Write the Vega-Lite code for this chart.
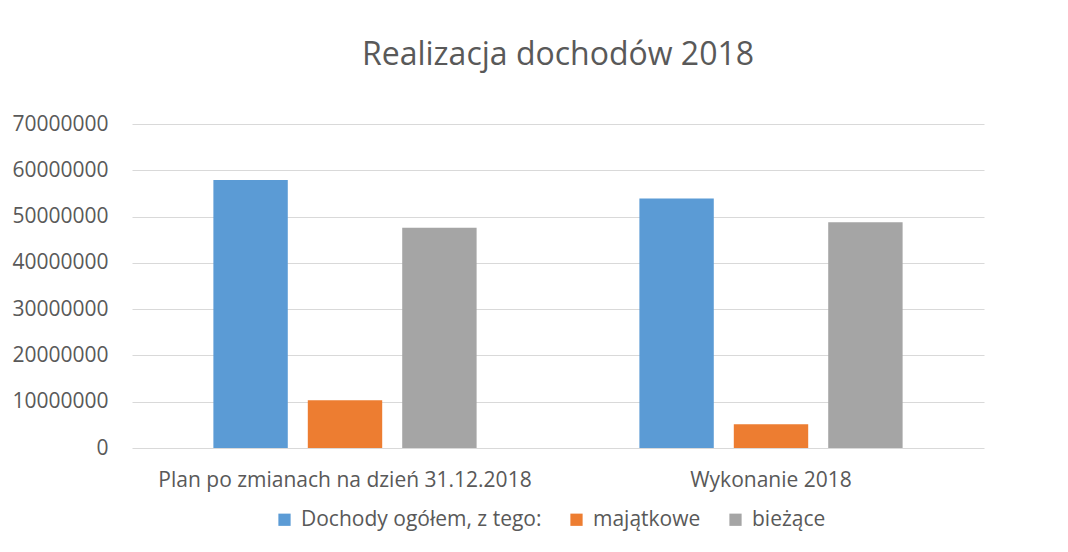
{
  "$schema": "https://vega.github.io/schema/vega-lite/v6.json",
  "autosize": "none",
  "width": 852,
  "height": 324,
  "padding": {"left": 132, "top": 124, "right": 84, "bottom": 104},
  "background": "white",
  "title": {
    "text": "Realizacja dochodów 2018",
    "font": "Open Sans",
    "fontSize": 32,
    "fontWeight": "normal",
    "color": "#595959",
    "anchor": "middle",
    "baseline": "alphabetic",
    "offset": 16
  },
  "data": {
    "values": [
      {"kategoria": "Plan po zmianach na dzień 31.12.2018", "seria": "Dochody ogółem, z tego:", "wartosc": 57900000},
      {"kategoria": "Plan po zmianach na dzień 31.12.2018", "seria": "majątkowe", "wartosc": 10300000},
      {"kategoria": "Plan po zmianach na dzień 31.12.2018", "seria": "bieżące", "wartosc": 47600000},
      {"kategoria": "Wykonanie 2018", "seria": "Dochody ogółem, z tego:", "wartosc": 53900000},
      {"kategoria": "Wykonanie 2018", "seria": "majątkowe", "wartosc": 5150000},
      {"kategoria": "Wykonanie 2018", "seria": "bieżące", "wartosc": 48750000}
    ]
  },
  "mark": {"type": "bar"},
  "encoding": {
    "x": {
      "field": "kategoria",
      "type": "nominal",
      "sort": ["Plan po zmianach na dzień 31.12.2018", "Wykonanie 2018"],
      "scale": {"paddingInner": 0, "paddingOuter": 0},
      "axis": {
        "title": null,
        "labelAngle": 0,
        "labelLimit": 0,
        "ticks": false,
        "domain": false,
        "grid": false,
        "labelPadding": 21,
        "labelFont": "Open Sans",
        "labelFontSize": 21,
        "labelColor": "#595959"
      }
    },
    "xOffset": {
      "field": "seria",
      "type": "nominal",
      "sort": ["Dochody ogółem, z tego:", "majątkowe", "bieżące"],
      "scale": {"paddingInner": 0.212, "paddingOuter": 0.862}
    },
    "y": {
      "field": "wartosc",
      "type": "quantitative",
      "scale": {"domain": [0, 70000000], "nice": false},
      "axis": {
        "title": null,
        "values": [0, 10000000, 20000000, 30000000, 40000000, 50000000, 60000000, 70000000],
        "format": "d",
        "grid": true,
        "gridColor": "#d9d9d9",
        "gridWidth": 1.2,
        "domain": false,
        "ticks": false,
        "labelPadding": 24,
        "labelFont": "Open Sans",
        "labelFontSize": 21,
        "labelColor": "#595959"
      }
    },
    "color": {
      "field": "seria",
      "type": "nominal",
      "scale": {
        "domain": ["Dochody ogółem, z tego:", "majątkowe", "bieżące"],
        "range": ["#5B9BD5", "#ED7D31", "#A5A5A5"]
      },
      "legend": {
        "title": null,
        "orient": "none",
        "legendX": 142,
        "legendY": 385,
        "padding": 0,
        "direction": "horizontal",
        "symbolType": "square",
        "symbolSize": 150,
        "symbolStrokeWidth": 0,
        "labelFont": "Open Sans",
        "labelFontSize": 21,
        "labelLimit": 0,
        "labelColor": "#595959",
        "labelOffset": 6,
        "columnPadding": 24
      }
    }
  },
  "config": {"view": {"stroke": null}}
}
